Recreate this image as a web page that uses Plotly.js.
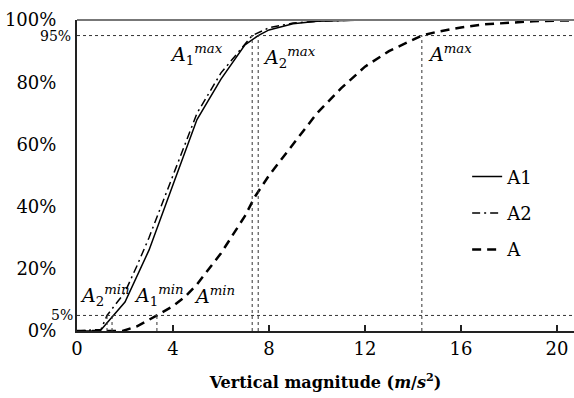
<!DOCTYPE html>
<html>
<head>
<meta charset="utf-8">
<script src="https://cdn.plot.ly/plotly-3.0.1.min.js"></script>
</head>
<body style="margin:0">
<div id="chart" style="width:574px;height:398px"></div>
<script>
// Cumulative distribution data (x in m/s^2, y in %)
const a1X = [0, 0.96, 2, 3, 4, 5, 6, 7, 7.55, 8, 9, 10, 12, 20.7];
const a1Y = [0, 0, 9.3, 26, 47, 68, 81, 92, 95, 96.8, 98.8, 99.6, 100, 100];
const a2X = [0, 1.0, 1.25, 2, 2.5, 3, 3.5, 4, 5, 6, 7, 7.3, 8, 9, 10, 12, 20.7];
const a2Y = [0, 0.5, 5, 12.5, 21, 30, 40, 50, 70, 83, 92.5, 95, 97.5, 99, 99.6, 100, 100];
const aX = [0, 1.9, 2.5, 3, 3.33, 4, 4.5, 5, 5.7, 6, 7, 7.4, 8, 9, 10, 11, 12, 13, 14, 14.37, 15, 16, 17, 18, 19, 20, 20.7];
const aY = [0, 0, 1.5, 3.5, 5, 8, 11, 15, 22, 25, 37, 43, 50, 60, 70, 78, 85, 90, 93.8, 95, 96.2, 97.6, 98.6, 99.2, 99.6, 99.8, 99.9];
const seriesNames = ["A1", "A2", "A"];
// thresholds
const levels = [5, 95];
const minX = {A2: 1.25, A1: 1.46, A: 3.33};
const maxX = {A2: 7.3, A1: 7.55, A: 14.37};
const xTicks = [0, 4, 8, 12, 16, 20];
const yTicks = [0, 20, 40, 60, 80, 100];
const yTickText = ["0%", "20%", "40%", "60%", "80%", "100%"];

const FAM = "DejaVu Serif";
const traces = [
  {x: a1X, y: a1Y, name: seriesNames[0], legendgroup: "g1", mode: "lines", line: {color: "#000", width: 1.5}},
  {x: a2X, y: a2Y, name: seriesNames[1], legendgroup: "g2", mode: "lines", line: {color: "#000", width: 1.5, dash: "8px,4px,2px,4px"}},
  {x: aX, y: aY, name: seriesNames[2], legendgroup: "g3", mode: "lines", line: {color: "#000", width: 2.5, dash: "9px,6px"}}
];

const dotLine = {color: "#333", width: 1, dash: "dot"};
const shapes = [];
levels.forEach(l => shapes.push({type: "line", xref: "paper", yref: "y", x0: 0, x1: 1, y0: l, y1: l, line: dotLine}));
["A2", "A1", "A"].forEach(k => {
  shapes.push({type: "line", xref: "x", yref: "y", x0: minX[k], x1: minX[k], y0: 0, y1: levels[0], line: dotLine});
  shapes.push({type: "line", xref: "x", yref: "y", x0: maxX[k], x1: maxX[k], y0: 0, y1: levels[1], line: dotLine});
});
shapes.push({type: "line", xref: "paper", yref: "paper", x0: 0, x1: 1, y0: 1, y1: 1, line: {color: "#777", width: 2}});

const labFont = {family: FAM, size: 19, color: "#000"};
const annotations = [
  {text: "<i>A</i><sub>1</sub><sup><i>max</i></sup>", x: 3.8, y: 94, xanchor: "left", yanchor: "top"},
  {text: "<i>A</i><sub>2</sub><sup><i>max</i></sup>", x: 7.65, y: 93, xanchor: "left", yanchor: "top"},
  {text: "<i>A</i><sup><i>max</i></sup>", x: 14.55, y: 94, xanchor: "left", yanchor: "top"},
  {text: "<i>A</i><sub>2</sub><sup><i>min</i></sup>", x: 0.05, y: 6.5, xanchor: "left", yanchor: "bottom"},
  {text: "<i>A</i><sub>1</sub><sup><i>min</i></sup>", x: 2.3, y: 6.5, xanchor: "left", yanchor: "bottom"},
  {text: "<i>A</i><sup><i>min</i></sup>", x: 4.8, y: 7, xanchor: "left", yanchor: "bottom"}
].map(a => Object.assign({xref: "x", yref: "y", showarrow: false, font: labFont}, a));
annotations.push({text: "95%", xref: "paper", yref: "y", x: -0.008, y: levels[1], xanchor: "right", yanchor: "middle", showarrow: false, font: {family: FAM, size: 14, color: "#000"}});
annotations.push({text: "5%", xref: "paper", yref: "y", x: -0.004, y: levels[0], xanchor: "right", yanchor: "middle", showarrow: false, font: {family: FAM, size: 14, color: "#000"}});

const layout = {
  width: 574, height: 398,
  margin: {l: 77, r: 0, t: 20, b: 67},
  paper_bgcolor: "#fff", plot_bgcolor: "#fff",
  font: {family: FAM, color: "#000"},
  showlegend: true,
  legend: {x: 0.785, y: 0.555, xanchor: "left", yanchor: "top", font: {family: FAM, size: 18, color: "#000"},
           bgcolor: "rgba(0,0,0,0)", traceorder: "grouped", tracegroupgap: 10},
  xaxis: {
    range: [0, 20.71], tickvals: xTicks, ticktext: xTicks.map(String),
    showgrid: false, zeroline: false, showline: true, linecolor: "#222", linewidth: 2,
    ticks: "inside", ticklen: 6, tickcolor: "#222", tickwidth: 1.5,
    tickfont: {family: FAM, size: 18, color: "#000"},
    title: {text: "<b>Vertical magnitude (<i>m</i>/<i>s</i><sup>2</sup>)</b>", font: {family: FAM, size: 16, color: "#000"}, standoff: 19}
  },
  yaxis: {
    range: [0, 100], tickvals: yTicks, ticktext: yTickText,
    showgrid: false, zeroline: false, showline: true, linecolor: "#222", linewidth: 2,
    ticks: "", ticklabelstandoff: 15,
    tickfont: {family: FAM, size: 18, color: "#000"}
  },
  shapes: shapes,
  annotations: annotations
};
Plotly.newPlot("chart", traces, layout, {displayModeBar: false});
</script>
</body>
</html>
